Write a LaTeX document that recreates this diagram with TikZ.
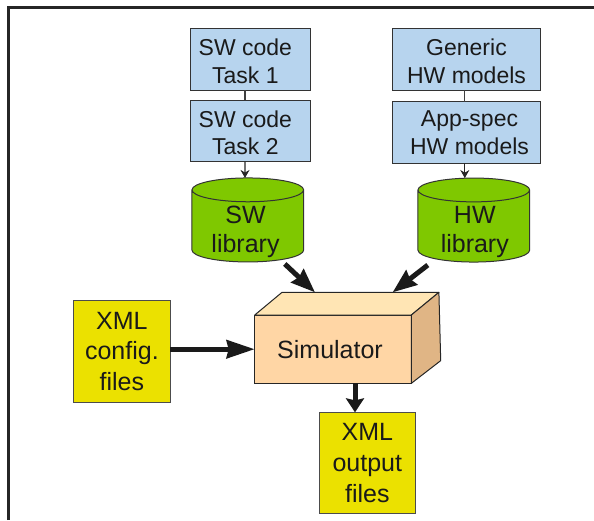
\documentclass[tikz,border=0pt]{standalone}
\usepackage{fontspec}
\setmainfont{Liberation Sans}
\usetikzlibrary{shapes.geometric, arrows.meta, positioning}
\definecolor{codeblue}{HTML}{B7D4EE}
\definecolor{libgreen}{HTML}{7FC800}
\definecolor{xmlyellow}{HTML}{EBE100}
\definecolor{simfront}{HTML}{FFD6A5}
\definecolor{simtop}{HTML}{FFE5B4}
\definecolor{simside}{HTML}{E0B585}
\definecolor{inkdark}{HTML}{1A1A1A}
\newcommand{\libbody}{\phantom{library}}

\begin{document}
\begin{tikzpicture}[
    x=1pt, y=1pt,
    text=inkdark,
    every label/.style={align=center, font=\fontsize{23}{27.7}\selectfont, label distance=0pt, inner sep=0pt, yshift=-2pt},
    libtext/.style={font=\fontsize{25}{29}\selectfont, yshift=-4pt},
    codebox/.style={draw=black!80, fill=codeblue, rectangle, minimum width=119.3pt, minimum height=61.5pt, line width=1.1pt, outer sep=0pt},
    hwbox/.style={codebox, minimum width=148.5pt},
    lib/.style={draw=black!80, fill=libgreen, cylinder, shape border rotate=90, aspect=0.35, minimum width=111.7pt, minimum height=84pt, line width=1pt, outer sep=0pt, inner sep=0pt, font=\fontsize{25}{29}\selectfont},
    xmlbox/.style={draw=black!70, fill=xmlyellow, rectangle, minimum width=96.2pt, minimum height=101.6pt, line width=1pt, outer sep=0pt, align=center, inner sep=0pt, font=\fontsize{25}{30.7}\selectfont},
    simbox/.style={draw=black!85, fill=simfront, rectangle, minimum width=156.6pt, minimum height=68.3pt, line width=1pt, outer sep=0pt},
    face/.style={draw=black!85, line width=1pt, line join=round},
    thinarrow/.style={-{Stealth[length=8pt,width=9pt]}, line width=1.1pt, black!85},
    link/.style={line width=1.1pt, black!75},
    fatarrow/.style={-{Stealth[length=#1,width=18pt,inset=2pt]}, line width=5pt, inkdark}
]
\useasboundingbox (0,0) rectangle (594,520);
\draw[line width=3pt, black!85] (8.5,0) -- (8.5,512) -- (594,512);
\node[codebox, label={[xshift=-5pt]center:{SW code\\Task 1}}] (task1) at (250.4,460.6) {};
\node[codebox, below=10pt of task1, label={[xshift=-5pt]center:{SW code\\Task 2}}] (task2) {};
\node[hwbox, right=82.2pt of task1, label={center:{Generic\\HW models}}] (generic) {};
\node[hwbox, below=11.7pt of generic, label={[xshift=3pt, yshift=2pt]center:{App-spec\\HW models}}] (appspec) {};
\node[lib, below=16.3pt of task2, xshift=-2.6pt, label={[libtext, xshift=-2.3pt]center:{SW\\library}}] (swlib) {\libbody};
\node[lib, below=14.7pt of appspec, xshift=7.3pt, label={[libtext, xshift=1pt]center:{HW\\library}}] (hwlib) {\libbody};
\node[simbox, label={[xshift=-3pt, yshift=2pt, font=\fontsize{25}{30}\selectfont]center:Simulator}] (sim) at (333,170.8) {};
\node[xmlbox, left=84.7pt of sim, yshift=-2.3pt] (config) {XML\\config.\\files};
\node[xmlbox, below=29pt of sim, xshift=34.3pt] (output) {XML\\output\\files};
\coordinate (simbackw) at ([shift={(27.3,22.7)}]sim.north west);
\coordinate (simbacke) at ([shift={(27.6,22.7)}]sim.north east);
\coordinate (simbackb) at ([shift={(29.4,22.7)}]sim.south east);
\draw[face, fill=simtop] (sim.north west) -- (simbackw) -- (simbacke) -- (sim.north east) -- cycle;
\draw[face, fill=simside] (sim.north east) -- (simbacke) -- (simbackb) -- (sim.south east) -- cycle;
\draw[link] ([xshift=-5.4pt]task1.south) -- ([xshift=-5.4pt]task2.north);
\draw[link] ([xshift=-1.7pt]generic.south) -- ([xshift=-1.7pt]appspec.north);
\draw[thinarrow] ([xshift=-5.4pt]task2.south) -- ([xshift=-2.8pt]swlib.north);
\draw[thinarrow] ([xshift=-1.7pt]appspec.south) -- ([xshift=-9pt]hwlib.north);
\draw[fatarrow=24pt] ([xshift=37pt,yshift=-2pt]swlib.south) -- ([xshift=33pt]simbackw);
\draw[fatarrow=24pt] ([xshift=-46pt,yshift=-3pt]hwlib.south) -- ([xshift=-46.3pt]simbacke);
\draw[fatarrow=28pt] (config.east |- sim.west) -- (sim.west);
\draw[fatarrow=14pt] ([xshift=22pt]sim.south) -- ([xshift=22pt]sim.south |- output.north);
\end{tikzpicture}
\end{document}
